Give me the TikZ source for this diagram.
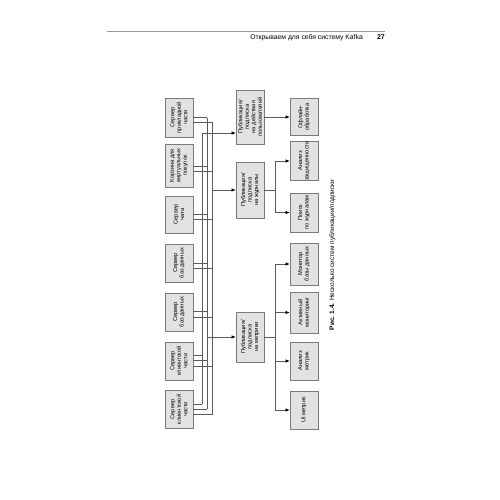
\documentclass[tikz,border=0pt]{standalone}
\usepackage{fontspec}
\setmainfont{Liberation Sans}
\usetikzlibrary{arrows.meta}
\definecolor{boxfill}{HTML}{E2E2E2}
\definecolor{boxline}{HTML}{7A7A7A}
\definecolor{wirecol}{HTML}{5A5A5A}
\definecolor{rulecol}{HTML}{9A9A9A}
\begin{document}
\begin{tikzpicture}[x=1pt,y=-1pt,
  box/.style={draw=boxline, fill=boxfill, line width=0.7pt, rotate=90, inner sep=0pt,
    minimum height=28pt, align=center, font=\fontsize{5.7}{6.5}\selectfont},
  wire/.style={draw=wirecol, line width=0.55pt},
  arr/.style={wire, -{Latex[length=4pt,width=3.4pt,color=black]}},
  headrule/.style={draw=rulecol, line width=0.6pt}]
\useasboundingbox[fill=white] (0,0) rectangle (500,500);

% header
\draw[headrule] (107,31) -- (385,31);
\node[anchor=base east, inner sep=0pt, font=\fontsize{6.8}{8}\selectfont] (hdr) at (363,40) {Открываем для себя систему Kafka};
\node[anchor=base east, inner sep=0pt, font=\fontsize{7}{8}\selectfont\bfseries] (pg) at (385,40) {27};

% sources
\node[box, minimum width=39pt] (s1) at (179,117.5) {Сервер\\прикладной\\части};
\node[box, minimum width=43pt] (s2) at (179,165.5) {Корзина для\\виртуальных\\покупок};
\node[box, minimum width=37pt] (s3) at (179,214.5) {Сервер\\чата};
\node[box, minimum width=38pt] (s4) at (179,263) {Сервер\\баз данных};
\node[box, minimum width=38pt] (s5) at (179,312) {Сервер\\баз данных};
\node[box, minimum width=38pt] (s6) at (179,361) {Сервер\\клиентской\\части};
\node[box, minimum width=38pt] (s7) at (179,409.5) {Сервер\\клиентской\\части};

% pub/sub
\node[box, minimum width=54pt] (t) at (250,117) {Публикация/\\подписка\\на действия\\пользователей};
\node[box, minimum width=56pt] (l) at (250,190) {Публикация/\\подписка\\на журналы};
\node[box, minimum width=50pt] (m) at (250,337) {Публикация/\\подписка\\на метрики};

% consumers
\node[box, minimum width=37pt] (o1) at (304,117) {Офлайн-\\обработка};
\node[box, minimum width=38pt] (o2) at (304,161) {Анализ\\защищенности};
\node[box, minimum width=39pt] (o3) at (304,212.5) {Поиск\\по журналам};
\node[box, minimum width=42pt] (o4) at (304,264) {Монитор\\базы данных};
\node[box, minimum width=41pt] (o5) at (304,312.5) {Активный\\мониторинг};
\node[box, minimum width=38pt] (o6) at (304,361) {Анализ\\метрик};
\node[box, minimum width=38pt] (o7) at (304,410) {UI метрик};

% bus coordinates
\coordinate (tb) at (202,133);
\coordinate (mb) at (207,337);
\coordinate (lb) at (212,190);
\coordinate (lsplit) at (275,190);
\coordinate (msplit) at (275,337);

% metrics bus
\foreach \n/\yy in {s1/117.7, s2/166, s3/214.3, s4/263.3, s5/311.7, s6/360.7, s7/409}
  \draw[wire] (\n.south |- 0,\yy) -- (mb |- 0,\yy);
\draw[wire] (mb |- 0,117.7) -- (mb |- 0,409);
% logs bus
\foreach \n/\yy in {s1/122.3, s2/171.3, s3/219.3, s4/268.7, s5/317.3, s6/366, s7/414.7}
  \draw[wire] (\n.south |- 0,\yy) -- (lb |- 0,\yy);
\draw[wire] (lb |- 0,122.3) -- (lb |- 0,414.7);
% tracking bus
\foreach \n/\yy in {s6/355, s7/404}
  \draw[wire] (\n.south |- 0,\yy) -- (tb |- 0,\yy);
\draw[wire] (tb) -- (tb |- 0,404);

% into pub/sub
\draw[arr] (tb) -- (t.north |- tb);
\draw[arr] (lb) -- (l.north |- lb);
\draw[arr] (mb) -- (m.north |- mb);

% out of pub/sub
\draw[arr] (t.south) -- (o1.north);
\draw[wire] (l.south) -- (lsplit);
\draw[wire] (lsplit |- o2.north) -- (lsplit |- o3.north);
\draw[arr] (lsplit |- o2.north) -- (o2.north);
\draw[arr] (lsplit |- o3.north) -- (o3.north);
\draw[wire] (m.south) -- (msplit);
\draw[wire] (msplit |- o4.north) -- (msplit |- o7.north);
\draw[arr] (msplit |- o4.north) -- (o4.north);
\draw[arr] (msplit |- o5.north) -- (o5.north);
\draw[arr] (msplit |- o6.north) -- (o6.north);
\draw[arr] (msplit |- o7.north) -- (o7.north);

% caption
\node[rotate=90, inner sep=0pt, font=\fontsize{6.5}{8}\selectfont] (cap) at (332.5,255)
  {\textbf{Рис. 1.4.} Несколько систем публикации/подписки};
\end{tikzpicture}
\end{document}
